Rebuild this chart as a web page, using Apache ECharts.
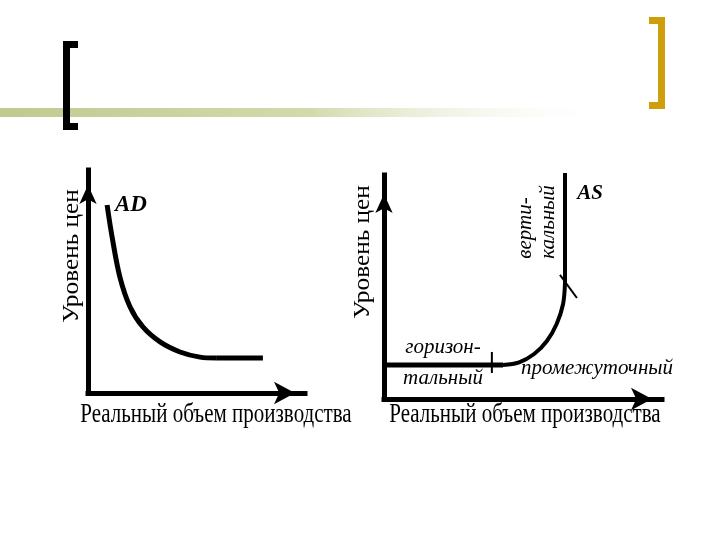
<!DOCTYPE html>
<html>
<head>
<meta charset="utf-8">
<script src="https://cdn.jsdelivr.net/npm/echarts@6/dist/echarts.min.js"></script>
<style>
  html, body { margin: 0; padding: 0; background: #fff; }
  #main { width: 720px; height: 540px; }
</style>
</head>
<body>
<div id="main"></div>
<script>
// AD curve (left chart), axis units 0..100
const adCurve = [[8.8, 84.3], [11.1, 70.0], [14.7, 52.0], [19.4, 38.6], [25.3, 29.6], [33.2, 22.9], [42.4, 18.4], [51.6, 16.1], [59.4, 15.7]]
const adFlat = [[59.4, 15.7], [80.6, 15.7]]

// AS curve (right chart): horizontal, intermediate, vertical parts
const asHorizontal = [[0, 15.2], [42.8, 15.2]]
const asCurve = [[42.8, 15.2], [48.6, 16.4], [54.0, 20.1], [58.6, 25.9], [62.1, 33.5], [64.4, 42.3], [65.1, 51.8]]
const asVertical = [[65.1, 51.8], [65.1, 100.9]]

// small marks splitting the AS segments
const markHorizEnd = [[38.8, 21.0], [38.8, 11.6]]
const markVertStart = [[63.3, 55.4], [69.4, 45.1]]

const axisTitleX = 'Реальный объем производства'
const axisTitleY = 'Уровень цен'

const chart = echarts.init(document.getElementById('main'))

function axis(gridIndex, isY) {
  return {
    type: 'value',
    gridIndex: gridIndex,
    min: 0,
    max: 100,
    axisLine: {
      show: true,
      onZero: false,
      symbol: ['none', 'arrow'],
      symbolSize: isY ? [13, 19] : [17, 21],
      symbolOffset: [0, isY ? (gridIndex === 0 ? -15 : -19) : -10],
      lineStyle: { color: '#000', width: 5, cap: 'square' }
    },
    axisTick: { show: false },
    axisLabel: { show: false },
    splitLine: { show: false }
  }
}

function line(data, gridIndex, width, smooth) {
  return {
    type: 'line',
    xAxisIndex: gridIndex,
    yAxisIndex: gridIndex,
    data: data,
    smooth: smooth,
    symbol: 'none',
    clip: false,
    silent: true,
    lineStyle: { color: '#000', width: width }
  }
}

function label(text, x, y, font, rot, extra) {
  return Object.assign({
    type: 'text',
    x: x,
    y: y,
    rotation: rot || 0,
    z: 10,
    style: {
      text: text,
      font: font,
      fill: '#000',
      align: 'center',
      verticalAlign: 'middle',
      textAlign: 'center',
      textVerticalAlign: 'middle'
    }
  }, extra || {})
}

const serif = '"Liberation Serif", "DejaVu Serif", serif'
const italic = 'italic 21px ' + serif

const option = {
  backgroundColor: '#fff',
  animation: false,
  grid: [
    { left: 88, top: 170, width: 217, height: 223 },
    { left: 384, top: 175, width: 278, height: 224 }
  ],
  xAxis: [axis(0, false), axis(1, false)],
  yAxis: [axis(0, true), axis(1, true)],
  series: [
    line(adCurve, 0, 5, 0.35),
    line(adFlat, 0, 5, false),
    line(asHorizontal, 1, 5, false),
    line(asCurve, 1, 4, 0.35),
    line(asVertical, 1, 4, false),
    line(markHorizEnd, 1, 2, false),
    line(markVertStart, 1, 2, false)
  ],
  graphic: [
    // slide decoration
    {
      type: 'rect',
      shape: { x: 0, y: 108, width: 620, height: 9 },
      style: {
        fill: new echarts.graphic.LinearGradient(0, 0, 1, 0, [
          { offset: 0, color: '#c2c98f' },
          { offset: 0.5, color: '#d4d9ac' },
          { offset: 1, color: 'rgba(255,255,255,0)' }
        ])
      }
    },
    { type: 'rect', shape: { x: 63, y: 41, width: 7, height: 89 }, style: { fill: '#000' } },
    { type: 'rect', shape: { x: 63, y: 41, width: 15, height: 7 }, style: { fill: '#000' } },
    { type: 'rect', shape: { x: 63, y: 123, width: 15, height: 7 }, style: { fill: '#000' } },
    { type: 'rect', shape: { x: 658, y: 17, width: 7, height: 92 }, style: { fill: '#cf9e0c' } },
    { type: 'rect', shape: { x: 649, y: 17, width: 16, height: 7 }, style: { fill: '#cf9e0c' } },
    { type: 'rect', shape: { x: 649, y: 102, width: 16, height: 7 }, style: { fill: '#cf9e0c' } },

    // axis titles
    label(axisTitleY, 72, 256, '23px ' + serif, Math.PI / 2, { scaleX: 1.1 }),
    label(axisTitleY, 363, 252, '23px ' + serif, Math.PI / 2, { scaleX: 1.1 }),
    label(axisTitleX, 216, 415, '21px ' + serif, 0, { scaleY: 1.25 }),
    label(axisTitleX, 525, 415, '21px ' + serif, 0, { scaleY: 1.25 }),

    // curve names
    label('AD', 131, 205, 'italic bold 23px ' + serif),
    label('AS', 590, 194, 'italic bold 21px ' + serif),

    // segment names
    label('горизон-', 443, 347, italic),
    label('тальный', 443, 378, italic),
    label('промежуточный', 597, 368, italic),
    label('верти-', 525, 228, italic, Math.PI / 2),
    label('кальный', 548, 222, italic, Math.PI / 2)
  ]
}

chart.setOption(option)
</script>
</body>
</html>
